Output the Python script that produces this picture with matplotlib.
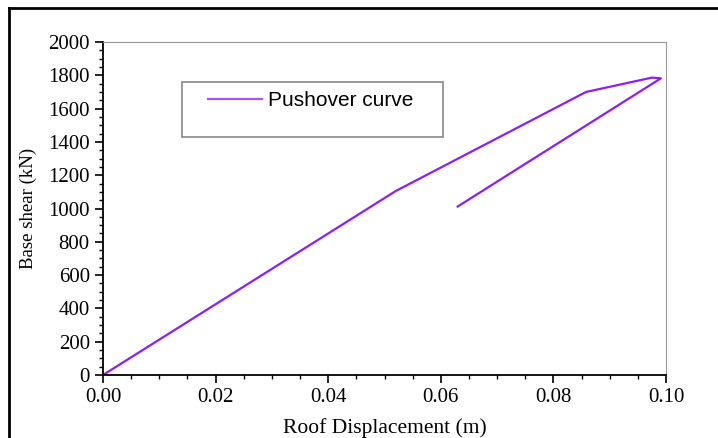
import matplotlib.pyplot as plt
from matplotlib.ticker import MultipleLocator
from matplotlib.lines import Line2D

# Dados da curva pushover
deslocamento = [0.0, 0.052, 0.0858, 0.0975, 0.0991, 0.063]
cortante = [0, 1105, 1700, 1786, 1782, 1012]

cor = '#8B1EFF'
serif = 'Liberation Serif'

fig = plt.figure(figsize=(7.18, 4.38), dpi=100)
ax = fig.add_axes([103 / 718, 1 - 375 / 438, 563 / 718, 333 / 438])

ax.plot(deslocamento, cortante, color=cor, lw=1.6)

ax.set_xlim(0, 0.10)
ax.set_ylim(0, 2000)
ax.xaxis.set_major_locator(MultipleLocator(0.02))
ax.xaxis.set_minor_locator(MultipleLocator(0.005))
ax.yaxis.set_major_locator(MultipleLocator(200))
ax.yaxis.set_minor_locator(MultipleLocator(50))
ax.xaxis.set_major_formatter(plt.FormatStrFormatter('%.2f'))

ax.tick_params(which='major', direction='out', length=6, width=1.2, labelsize=15)
ax.tick_params(which='minor', direction='out', length=3, width=1)
ax.tick_params(axis='x', pad=3)
for lbl in ax.get_xticklabels() + ax.get_yticklabels():
    lbl.set_fontfamily(serif)

ax.spines['left'].set_linewidth(1.3)
ax.spines['bottom'].set_linewidth(1.3)
ax.spines['top'].set_color('#999999')
ax.spines['right'].set_color('#999999')

ax.set_xlabel('Roof Displacement (m)', fontfamily=serif, fontsize=15.5, labelpad=8)
ax.set_ylabel('Base shear (kN)', fontfamily=serif, fontsize=13.5, labelpad=8)

# Legenda desenhada como caixa
caixa = plt.Rectangle((182 / 718, 1 - 137 / 438), 261 / 718, 55 / 438,
                      transform=fig.transFigure, fill=False,
                      edgecolor='#888888', lw=1.2)
fig.add_artist(caixa)
fig.add_artist(Line2D([208 / 718, 262 / 718], [1 - 99 / 438, 1 - 99 / 438],
                      transform=fig.transFigure, color='#A855F7', lw=1.6))
fig.text(268 / 718, 1 - 100 / 438, 'Pushover curve', fontfamily='Liberation Sans',
         fontsize=15, va='center', ha='left')

# Moldura externa
fig.add_artist(Line2D([9 / 718, 9 / 718], [0, 1 - 8 / 438],
                      transform=fig.transFigure, color='black', lw=2))
fig.add_artist(Line2D([9 / 718, 1], [1 - 8 / 438, 1 - 8 / 438],
                      transform=fig.transFigure, color='black', lw=2))

fig.savefig('out.png', dpi=100)
